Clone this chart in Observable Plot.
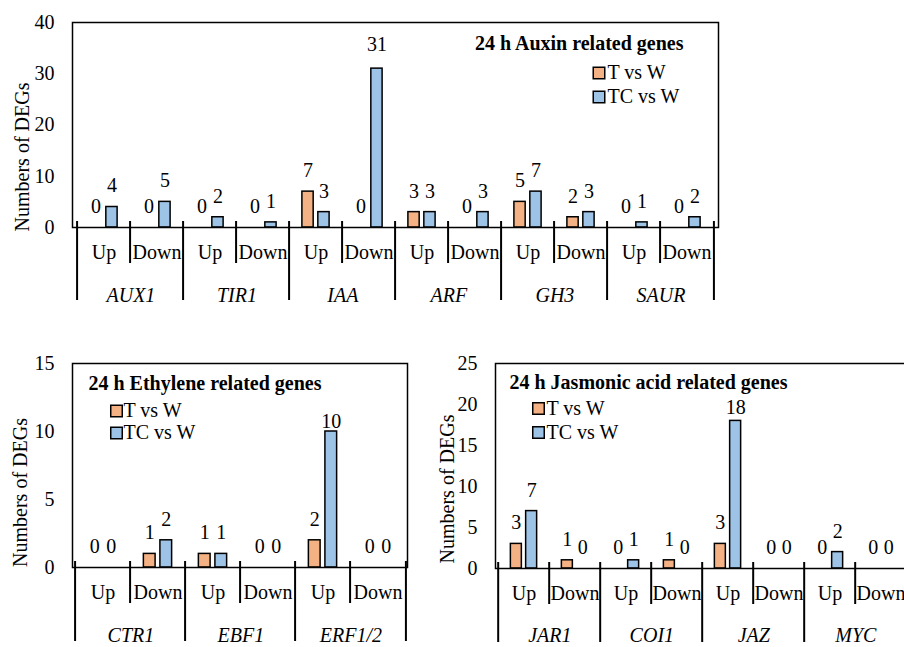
<!DOCTYPE html>
<html>
<head>
<meta charset="utf-8">
<script src="https://cdn.jsdelivr.net/npm/d3@7"></script>
<script src="https://cdn.jsdelivr.net/npm/@observablehq/plot@0.6"></script>
<style>
  body { margin: 0; background: #fff; }
  #page { position: relative; width: 904px; height: 647px; overflow: hidden; background: #fff; }
  .panel { position: absolute; }
  #page svg { max-width: none !important; }
  #page svg, #page svg text { font-family: "Liberation Serif", "Times New Roman", serif !important; }
</style>
</head>
<body>
<div id="page"></div>
<script>
// Comparisons and their fills
const series = ["T vs W", "TC vs W"];
const seriesColors = ["#F4B183", "#9DC3E6"];
const directions = ["Up", "Down"];
const yLabel = "Numbers of DEGs";

// Auxin panel: values listed as Up, Down for each gene
const auxinTitle = "24 h Auxin related genes";
const auxinGenes = ["AUX1", "TIR1", "IAA", "ARF", "GH3", "SAUR"];
const auxinT  = [0, 0, 0, 0, 7, 0, 3, 0, 5, 2, 0, 0];
const auxinTC = [4, 5, 2, 1, 3, 31, 3, 3, 7, 3, 1, 2];
const auxinTicks = [0, 10, 20, 30, 40];

// Ethylene panel
const ethyleneTitle = "24 h Ethylene related genes";
const ethyleneGenes = ["CTR1", "EBF1", "ERF1/2"];
const ethyleneT  = [0, 1, 1, 0, 2, 0];
const ethyleneTC = [0, 2, 1, 0, 10, 0];
const ethyleneTicks = [0, 5, 10, 15];

// Jasmonic acid panel
const jaTitle = "24 h Jasmonic acid related genes";
const jaGenes = ["JAR1", "COI1", "JAZ", "MYC"];
const jaT  = [3, 1, 0, 1, 3, 0, 0, 0];
const jaTC = [7, 0, 1, 0, 18, 0, 2, 0];
const jaTicks = [0, 5, 10, 15, 20, 25];

const FONT = "Liberation Serif, Times New Roman, serif";

function drawPanel(cfg) {
  const keys = cfg.genes.flatMap(g => directions.map(d => `${g}|${d}`));
  const rows = [];
  [cfg.t, cfg.tc].forEach((vals, s) => {
    keys.forEach((k, i) => rows.push({key: k, series: s, value: vals[i]}));
  });
  const peak = d3.max(rows, r => r.value);

  const [mt, mr, mb, ml] = cfg.margin;
  const bw = (cfg.width - ml - mr) / keys.length;   // width of one Up/Down slot
  const barW = 0.225 * bw;
  const off = 0.148 * bw;                            // bar centre offset from slot centre
  const offsets = [-off, off];

  const marks = [];

  // bars and their value labels
  [0, 1].forEach(s => {
    const o = offsets[s];
    marks.push(Plot.barY(rows.filter(r => r.series === s && r.value > 0), {
      x: "key", y1: 0, y2: "value",
      fill: seriesColors[s], stroke: "black", strokeWidth: 1.5,
      insetLeft: bw / 2 + o - barW / 2,
      insetRight: bw / 2 - o - barW / 2
    }));
    marks.push(Plot.text(rows.filter(r => r.series === s && r.value !== peak), {
      x: "key", y: "value", text: r => String(r.value),
      dx: o, dy: -21, fill: "black"
    }));
    // the tallest bar carries its label at its own height
    marks.push(Plot.text(rows.filter(r => r.series === s && r.value === peak), {
      x: "key", y: "value", text: r => String(r.value),
      dx: o, dy: cfg.peakDy, fill: "black"
    }));
  });

  marks.push(Plot.frame({stroke: "black", strokeWidth: 1.5}));

  // short dividers between Up and Down
  marks.push(Plot.ruleX(cfg.genes, {
    x: g => `${g}|Down`, y1: 0, y2: 0, dx: -bw / 2,
    insetTop: -6, insetBottom: -36, stroke: "black", strokeWidth: 2
  }));
  // long dividers between genes, plus the two outer edges
  marks.push(Plot.ruleX(cfg.genes, {
    x: g => `${g}|Up`, y1: 0, y2: 0, dx: -bw / 2,
    insetTop: -6, insetBottom: -cfg.longDrop, stroke: "black", strokeWidth: 2
  }));
  marks.push(Plot.ruleX([keys[keys.length - 1]], {
    x: d => d, y1: 0, y2: 0, dx: bw / 2,
    insetTop: -6, insetBottom: -cfg.longDrop, stroke: "black", strokeWidth: 2
  }));

  // gene names under each pair of slots
  marks.push(Plot.text(cfg.genes, {
    x: g => `${g}|Up`, y: 0, text: g => g, dx: bw / 2, dy: cfg.geneDy,
    fontStyle: "italic", fill: "black"
  }));

  // y axis title
  marks.push(Plot.text([yLabel], {
    frameAnchor: "left", textAnchor: "middle", lineAnchor: "middle",
    rotate: -90, dx: cfg.yLabelDx, dy: cfg.yLabelDy, fill: "black"
  }));

  // panel title
  marks.push(Plot.text([cfg.title], {
    frameAnchor: cfg.titleAnchor, textAnchor: cfg.titleAnchor.endsWith("right") ? "end" : "start",
    lineAnchor: "middle", dx: cfg.titleDx, dy: cfg.titleDy, fontWeight: "bold", fill: "black"
  }));

  // legend
  series.forEach((name, i) => {
    const dy = cfg.legendDy + i * cfg.legendStep;
    marks.push(Plot.dot([name], {
      frameAnchor: cfg.legendAnchor, dx: cfg.swatchDx, dy,
      symbol: "square", r: 6.5, fill: seriesColors[i], stroke: "black", strokeWidth: 1.5
    }));
    marks.push(Plot.text([name], {
      frameAnchor: cfg.legendAnchor, textAnchor: "start", lineAnchor: "middle",
      dx: cfg.legendTextDx, dy, fill: "black"
    }));
  });

  const svg = Plot.plot({
    width: cfg.width,
    height: cfg.height,
    marginTop: mt, marginRight: mr, marginBottom: mb, marginLeft: ml,
    style: {fontFamily: FONT, fontSize: "20px", color: "black", background: "transparent", overflow: "visible", maxWidth: "none"},
    x: {domain: keys, padding: 0, tickSize: 0, tickPadding: 17, tickFormat: k => k.split("|")[1], label: null},
    y: {domain: [0, cfg.ticks[cfg.ticks.length - 1]], ticks: cfg.ticks, tickSize: 0, tickPadding: 18, label: null},
    marks
  });
  const wrap = document.createElement("div");
  wrap.className = "panel";
  wrap.style.left = cfg.left + "px";
  wrap.style.top = cfg.top + "px";
  wrap.style.width = cfg.width + "px";
  wrap.appendChild(svg);
  document.getElementById("page").appendChild(wrap);
}

drawPanel({
  title: auxinTitle, genes: auxinGenes, t: auxinT, tc: auxinTC, ticks: auxinTicks,
  left: 0, top: 0, width: 740, height: 310, margin: [22, 22, 83, 72],
  longDrop: 73, geneDy: 68, yLabelDx: -50, yLabelDy: 32, peakDy: -24,
  titleAnchor: "top-right", titleDx: -35, titleDy: 21,
  legendAnchor: "top-right", swatchDx: -119.5, legendTextDx: -111, legendDy: 50.5, legendStep: 24
});

drawPanel({
  title: ethyleneTitle, genes: ethyleneGenes, t: ethyleneT, tc: ethyleneTC, ticks: ethyleneTicks,
  left: 0, top: 340, width: 450, height: 307, margin: [23, 43, 80, 72],
  longDrop: 74, geneDy: 68, yLabelDx: -52, yLabelDy: 27, peakDy: -10,
  titleAnchor: "top-left", titleDx: 16, titleDy: 20,
  legendAnchor: "top-left", swatchDx: 44, legendTextDx: 51, legendDy: 47.5, legendStep: 22
});

drawPanel({
  title: jaTitle, genes: jaGenes, t: jaT, tc: jaTC, ticks: jaTicks,
  left: 440, top: 340, width: 480, height: 307, margin: [23, 12, 79, 55],
  longDrop: 74, geneDy: 67.5, yLabelDx: -48, yLabelDy: 23, peakDy: -13,
  titleAnchor: "top-left", titleDx: 14, titleDy: 19.5,
  legendAnchor: "top-left", swatchDx: 43, legendTextDx: 51, legendDy: 45, legendStep: 24
});
</script>
</body>
</html>
